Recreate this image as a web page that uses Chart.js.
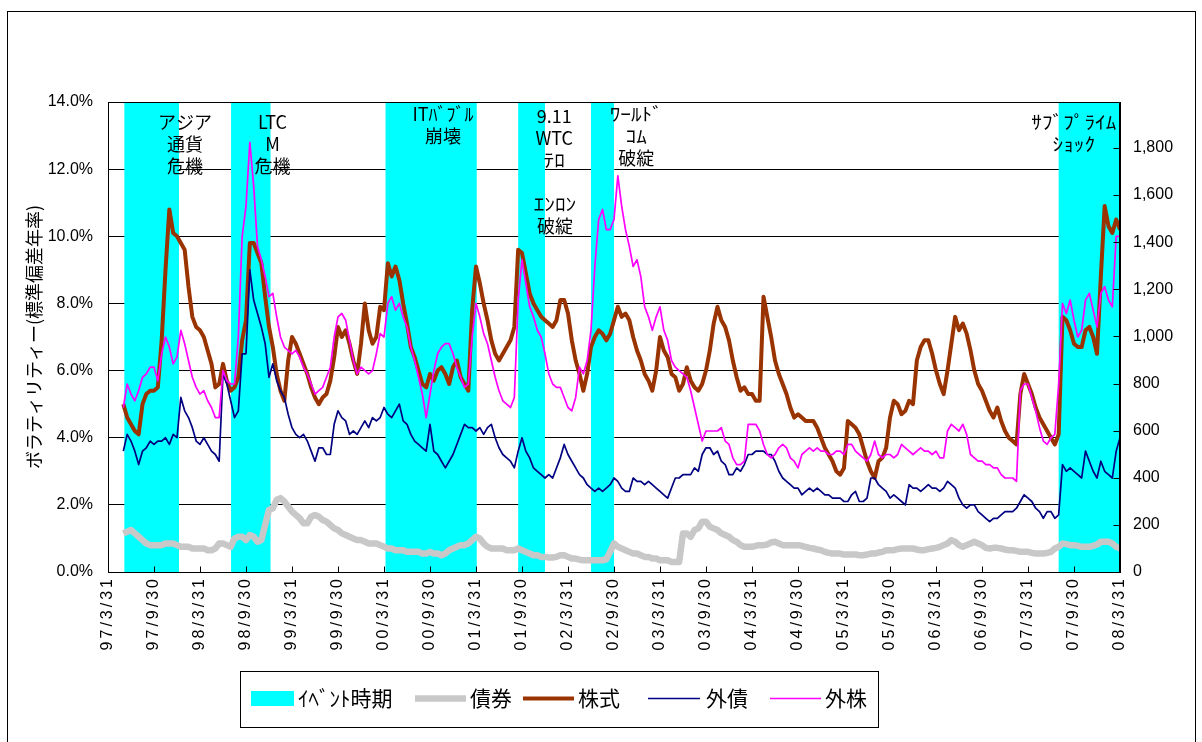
<!DOCTYPE html>
<html>
<head>
<meta charset="utf-8">
<script src="https://cdn.jsdelivr.net/npm/chart.js@4.4.1/dist/chart.umd.min.js"></script>
<style>
  html, body { margin: 0; padding: 0; background: #fff; }
  #wrap { position: relative; width: 1202px; height: 742px; }
</style>
</head>
<body>
<div id="wrap"><canvas id="c" width="1202" height="742"></canvas></div>
<script>
// Samples are half-monthly, counted in months from 1997/3/31.
const startMonth = 2;
const stepMonth = 0.5;

const tickLabels = ['97/3/31','97/9/30','98/3/31','98/9/30','99/3/31','99/9/30','00/3/31','00/9/30',
  '01/3/31','01/9/30','02/3/31','02/9/30','03/3/31','03/9/30','04/3/31','04/9/30','05/3/31','05/9/30',
  '06/3/31','06/9/30','07/3/31','07/9/30','08/3/31'];
const rightTicks = [0,200,400,600,800,1000,1200,1400,1600,1800];
const rightMax = 1995;

const seriesNames = ['ｲﾍﾞﾝﾄ時期','債券','株式','外債','外株'];

// Event periods (months from 1997/3/31)
const eventStart = [2.13, 16.05, 36.2, 53.5, 63.0, 124.0];
const eventEnd   = [9.26, 21.2, 48.1, 57.0, 66.0, 132.0];

// Annualised volatility, %
const bondVol = [
  1.15,1.2,1.25,1.15,1.05,0.95,0.85,0.8,0.8,0.8,
  0.8,0.85,0.85,0.85,0.8,0.75,0.75,0.75,0.7,0.7,
  0.7,0.7,0.65,0.65,0.7,0.85,0.85,0.8,0.75,1.0,
  1.05,1.05,0.95,1.1,1.05,0.9,0.95,1.4,1.85,1.9,
  2.15,2.2,2.1,1.95,1.8,1.7,1.6,1.45,1.45,1.65,
  1.7,1.65,1.55,1.5,1.4,1.3,1.25,1.15,1.1,1.05,
  1.0,0.95,0.95,0.9,0.85,0.85,0.85,0.8,0.75,0.7,
  0.7,0.65,0.65,0.65,0.6,0.6,0.6,0.6,0.55,0.55,
  0.6,0.55,0.55,0.5,0.55,0.65,0.7,0.75,0.8,0.8,
  0.85,0.95,1.05,1.0,0.85,0.75,0.7,0.7,0.7,0.7,
  0.65,0.65,0.65,0.7,0.65,0.6,0.55,0.5,0.5,0.45,
  0.45,0.43,0.43,0.45,0.5,0.5,0.45,0.4,0.4,0.37,
  0.35,0.35,0.35,0.35,0.35,0.35,0.38,0.6,0.85,0.75,
  0.7,0.65,0.6,0.55,0.55,0.5,0.45,0.45,0.4,0.4,
  0.35,0.35,0.35,0.3,0.3,0.3,1.15,1.15,1.05,1.25,
  1.3,1.5,1.5,1.35,1.3,1.25,1.15,1.1,1.05,0.95,
  0.9,0.8,0.75,0.75,0.75,0.78,0.8,0.8,0.82,0.88,
  0.9,0.85,0.8,0.8,0.8,0.8,0.8,0.78,0.75,0.72,
  0.7,0.67,0.65,0.6,0.57,0.55,0.55,0.55,0.52,0.52,
  0.52,0.52,0.5,0.5,0.52,0.55,0.55,0.58,0.6,0.65,
  0.65,0.65,0.68,0.7,0.7,0.7,0.7,0.67,0.65,0.65,
  0.68,0.7,0.72,0.75,0.8,0.85,0.95,0.9,0.8,0.75,
  0.8,0.85,0.9,0.85,0.8,0.72,0.7,0.72,0.72,0.7,
  0.67,0.65,0.65,0.63,0.6,0.6,0.6,0.57,0.55,0.55,
  0.55,0.57,0.6,0.7,0.75,0.85,0.83,0.8,0.8,0.78,
  0.75,0.75,0.75,0.78,0.82,0.9,0.9,0.9,0.85,0.75,
  0.7
];
const stockVol = [
  5.0,4.6,4.4,4.2,4.1,5.0,5.3,5.4,5.4,5.5,
  6.9,9.0,10.8,10.1,10.0,9.8,9.6,8.5,7.6,7.3,
  7.2,7.0,6.6,6.2,5.5,5.6,6.2,5.7,5.4,5.5,
  5.8,6.9,7.5,9.8,9.8,9.5,9.2,8.2,7.3,6.7,
  5.9,5.4,5.1,6.3,7.0,6.8,6.5,6.2,5.9,5.5,
  5.2,5.0,5.2,5.3,5.7,6.4,7.3,7.0,7.2,6.8,
  6.3,5.9,6.8,8.0,7.2,6.8,7.0,7.9,7.8,9.2,
  8.8,9.1,8.7,8.0,7.4,6.7,6.4,6.0,5.6,5.5,
  5.9,5.7,6.0,6.1,5.9,5.6,6.1,6.3,5.8,5.6,
  5.4,7.8,9.1,8.6,8.0,7.5,6.9,6.5,6.3,6.5,
  6.7,6.9,7.3,9.6,9.5,8.9,8.3,8.0,7.8,7.6,
  7.5,7.4,7.3,7.5,8.1,8.1,7.7,6.9,6.3,5.9,
  5.4,5.9,6.7,7.0,7.2,7.1,6.9,7.1,7.5,7.9,
  7.6,7.7,7.5,7.0,6.6,6.3,5.9,5.7,5.4,6.0,
  7.0,6.6,6.4,5.9,5.8,5.4,5.6,6.1,5.7,5.5,
  5.4,5.6,6.0,6.6,7.4,7.9,7.5,7.3,6.9,6.3,
  5.8,5.4,5.5,5.3,5.3,5.1,5.1,8.2,7.6,7.0,
  6.3,5.9,5.6,5.3,4.9,4.6,4.7,4.6,4.5,4.5,
  4.5,4.3,4.0,3.7,3.5,3.3,3.0,2.9,3.1,4.5,
  4.4,4.3,4.1,3.7,3.3,3.0,2.8,3.3,3.4,3.7,
  4.6,5.1,5.0,4.7,4.8,5.1,5.0,6.3,6.7,6.9,
  6.9,6.5,6.0,5.6,5.3,6.0,6.8,7.6,7.2,7.4,
  7.1,6.6,6.0,5.6,5.4,5.1,4.8,4.6,4.9,4.5,
  4.2,4.0,3.9,3.8,5.3,5.9,5.6,5.3,4.9,4.6,
  4.4,4.2,4.0,3.8,4.1,7.6,7.5,7.2,6.8,6.7,
  6.7,7.2,7.3,7.0,6.5,8.8,10.9,10.3,10.1,10.5,
  10.2
];
const foreignBondVol = [
  3.6,4.1,3.9,3.6,3.2,3.6,3.7,3.9,3.8,3.9,
  3.9,4.0,3.8,4.1,4.0,5.2,4.8,4.6,4.3,3.9,
  3.8,4.0,3.8,3.6,3.5,3.3,5.9,5.6,5.1,4.6,
  4.8,6.5,6.5,9.0,8.1,7.7,7.3,6.8,5.8,6.2,
  5.7,5.4,5.2,4.7,4.3,4.1,4.0,4.1,3.9,3.6,
  3.3,3.7,3.7,3.5,3.5,4.4,4.8,4.6,4.5,4.1,
  4.2,4.1,4.3,4.5,4.3,4.6,4.5,4.6,4.9,4.7,
  4.6,4.8,5.0,4.5,4.4,4.1,3.9,3.8,3.7,3.6,
  4.4,3.6,3.5,3.3,3.1,3.3,3.5,3.8,4.1,4.4,
  4.3,4.3,4.2,4.3,4.1,4.3,4.4,4.0,3.7,3.5,
  3.4,3.3,3.1,3.6,4.0,3.6,3.4,3.1,3.0,2.9,
  2.8,2.9,2.8,3.1,3.4,3.8,3.5,3.3,3.1,2.9,
  2.8,2.6,2.5,2.4,2.5,2.4,2.5,2.6,2.8,2.7,
  2.5,2.4,2.4,2.8,2.7,2.7,2.6,2.7,2.6,2.5,
  2.4,2.3,2.2,2.5,2.8,2.8,2.9,2.9,2.9,3.1,
  3.0,3.5,3.7,3.7,3.5,3.6,3.3,3.2,2.9,2.9,
  3.1,3.0,3.2,3.5,3.5,3.6,3.6,3.6,3.5,3.5,
  3.3,3.0,2.8,2.7,2.6,2.5,2.5,2.3,2.4,2.5,
  2.4,2.5,2.4,2.3,2.3,2.2,2.2,2.2,2.1,2.1,
  2.3,2.4,2.1,2.1,2.2,2.8,2.8,2.6,2.5,2.4,
  2.2,2.3,2.2,2.1,2.0,2.6,2.5,2.5,2.4,2.5,
  2.6,2.5,2.5,2.4,2.5,2.7,2.6,2.5,2.2,2.0,
  1.9,2.0,2.0,1.8,1.7,1.6,1.5,1.6,1.6,1.7,
  1.8,1.8,1.8,1.9,2.1,2.3,2.2,2.1,1.9,1.8,
  1.6,1.8,1.8,1.6,1.7,3.2,3.0,3.1,3.0,2.9,
  2.8,3.6,3.3,3.0,2.8,3.3,3.0,2.9,2.8,3.6,
  4.0
];
const foreignStockVol = [
  4.9,5.6,5.3,5.1,5.4,5.8,5.9,6.1,6.1,5.7,
  6.5,7.0,6.7,6.2,6.4,7.2,6.8,6.3,5.8,5.5,
  5.3,5.4,5.1,4.9,4.6,4.6,6.0,5.7,5.6,5.6,
  7.0,10.0,10.9,12.8,11.5,9.7,9.3,8.8,8.2,8.3,
  7.6,7.0,6.7,6.6,6.5,6.6,6.4,6.1,5.9,5.6,
  5.3,5.4,5.5,5.8,6.1,7.0,7.6,7.7,7.5,6.9,
  6.3,5.9,6.1,6.0,5.9,6.0,6.5,7.1,7.0,8.0,
  8.2,7.8,8.0,7.6,7.3,6.7,6.3,5.8,5.3,4.6,
  5.3,6.0,6.5,6.7,6.8,6.8,6.5,6.1,5.8,5.5,
  5.6,7.0,8.0,7.6,7.1,6.8,6.3,5.8,5.4,5.1,
  5.0,4.9,5.2,8.1,9.3,8.6,7.9,7.6,7.2,7.0,
  6.5,5.9,5.6,5.5,5.5,5.2,4.9,4.8,5.2,6.1,
  5.9,6.3,7.2,9.1,10.5,10.8,10.2,10.2,10.5,11.8,
  10.9,10.2,9.7,9.1,9.3,8.8,7.9,7.6,7.2,7.6,
  7.9,7.2,6.9,6.3,6.1,6.0,5.9,5.8,5.4,4.9,
  4.4,3.9,4.2,4.2,4.2,4.2,4.3,3.9,3.8,3.4,
  3.2,3.2,3.3,4.4,4.4,4.4,4.2,3.8,3.5,3.4,
  3.5,3.7,3.8,3.7,3.4,3.3,3.1,3.5,3.6,3.7,
  3.6,3.7,3.6,3.6,3.5,3.5,3.6,3.6,3.5,3.8,
  3.8,3.6,3.5,3.4,3.3,3.5,3.9,3.5,3.4,3.5,
  3.5,3.4,3.5,3.8,3.7,3.6,3.5,3.6,3.7,3.6,
  3.6,3.5,3.6,3.4,3.4,4.2,4.4,4.3,4.2,4.4,
  4.1,3.5,3.4,3.3,3.3,3.2,3.2,3.1,3.1,2.9,
  2.8,2.8,2.8,2.7,5.4,5.6,5.6,5.2,4.8,4.3,
  3.9,3.8,4.0,4.1,5.6,8.0,7.7,8.1,7.5,7.0,
  7.2,8.1,8.3,7.8,7.3,8.3,8.5,8.1,7.9,10.0,
  10.0
];

// Event captions: centre month, level (%) of the first line
const eventNotes = [
  { lines: ['アジア', '通貨', '危機'], month: 10.05, level: 13.39 },
  { lines: ['LTC', 'M', '危機'], month: 21.46, level: 13.39 },
  { lines: ['ITﾊﾞﾌﾞﾙ', '崩壊'], month: 43.7, level: 13.63 },
  { lines: ['9.11', 'WTC', 'ﾃﾛ'], month: 58.2, level: 13.58 },
  { lines: ['ｴﾝﾛﾝ', '破綻'], month: 58.3, level: 10.97 },
  { lines: ['ﾜｰﾙﾄﾞ', 'ｺﾑ', '破綻'], month: 68.9, level: 13.63 },
  { lines: ['ｻﾌﾞﾌﾟﾗｲﾑ', 'ｼｮｯｸ'], month: 125.98, level: 13.4 }
];

const yTitle = 'ボラティリティー(標準偏差年率)';

const latinFont = '"Liberation Sans", Arial, sans-serif';
const jpFont = '"Noto Sans CJK JP", sans-serif';

const toPoints = arr => arr.map((v, i) => ({ x: startMonth + i * stepMonth, y: v }));
const eventPoints = [{ x: 0, y: 0 }];
eventStart.forEach((s, i) => {
  eventPoints.push({ x: s, y: 0 }, { x: s, y: rightMax }, { x: eventEnd[i], y: rightMax }, { x: eventEnd[i], y: 0 });
});

const lineBase = { type: 'line', pointRadius: 0, tension: 0, borderJoinStyle: 'round', fill: false, yAxisID: 'y' };

// half-width kana captions are drawn a little wider
const isHalfKana = s => /[\uFF61-\uFF9F]/.test(s) && !/[A-Z]/.test(s);

// white page, outer frame
const pageFrame = {
  id: 'pageFrame',
  beforeDraw(chart) {
    const c = chart.ctx;
    c.save();
    c.fillStyle = '#fff';
    c.fillRect(0, 0, chart.width, chart.height);
    c.strokeStyle = '#000';
    c.lineWidth = 1;
    c.strokeRect(7.5, 11.5, 1188, 800);
    c.restore();
    // wider spacing for the rotated date labels
    const sx = chart.scales.x;
    if (sx && !sx._spaced) {
      const orig = sx.drawLabels;
      sx.drawLabels = function (area) {
        this.ctx.save();
        this.ctx.letterSpacing = '3px';
        orig.call(this, area);
        this.ctx.restore();
      };
      sx._spaced = true;
    }
  }
};

// plot frame, inward tick marks and event captions
const plotDecor = {
  id: 'plotDecor',
  afterDatasetsDraw(chart) {
    const c = chart.ctx;
    const a = chart.chartArea;
    const sx = chart.scales.x, sy = chart.scales.y, sr = chart.scales.y2;
    c.save();
    c.strokeStyle = '#000';
    c.lineWidth = 1;
    c.beginPath();
    const L = Math.round(a.left) + 0.5, R = Math.round(a.right) - 0.5;
    const T = Math.round(a.top) + 0.5, B = Math.round(a.bottom) + 0.5;
    c.rect(L, T, R - L, B - T);
    sx.ticks.forEach(t => {
      const px = Math.round(sx.getPixelForValue(t.value)) + 0.5;
      c.moveTo(px, B); c.lineTo(px, B - 6);
    });
    sr.ticks.forEach(t => {
      const py = Math.round(sr.getPixelForValue(t.value)) + 0.5;
      c.moveTo(R, py); c.lineTo(R - 6, py);
    });
    c.stroke();

    c.fillStyle = '#000';
    c.font = '18px ' + jpFont;
    c.textAlign = 'center';
    c.textBaseline = 'middle';
    eventNotes.forEach(n => {
      const x = sx.getPixelForValue(n.month);
      const y0 = sy.getPixelForValue(n.level);
      n.lines.forEach((ln, i) => {
        const y = y0 + i * 22;
        if (isHalfKana(ln)) {
          c.save();
          c.translate(x, y);
          c.scale(1.18, 1);
          c.fillText(ln, 0, 0);
          c.restore();
        } else {
          c.fillText(ln, x, y);
        }
      });
    });
    c.restore();
  }
};

// boxed legend under the chart
const boxLegend = {
  id: 'boxLegend',
  afterDraw(chart) {
    const c = chart.ctx;
    const ds = chart.data.datasets;
    const slots = [
      { sym: 251, w: 43, text: 298 },
      { sym: 415, w: 51, text: 470 },
      { sym: 523, w: 51, text: 578 },
      { sym: 648, w: 52, text: 706 },
      { sym: 770, w: 51, text: 825 }
    ];
    const cy = 698;
    c.save();
    c.strokeStyle = '#000';
    c.lineWidth = 1;
    c.strokeRect(240.5, 671.5, 638, 56);
    c.font = '21px ' + jpFont;
    c.textAlign = 'left';
    c.textBaseline = 'middle';
    ds.forEach((d, i) => {
      const s = slots[i];
      if (i === 0) {
        c.fillStyle = d.backgroundColor;
        c.fillRect(s.sym, cy - 7, s.w, 15);
      } else {
        c.strokeStyle = d.borderColor;
        c.lineWidth = d.borderWidth;
        c.beginPath();
        c.moveTo(s.sym, cy + 0.5);
        c.lineTo(s.sym + s.w, cy + 0.5);
        c.stroke();
      }
      c.fillStyle = '#000';
      c.fillText(d.label, s.text, cy);
    });
    c.restore();
  }
};

new Chart(document.getElementById('c'), {
  data: {
    datasets: [
      { type: 'line', label: seriesNames[0], data: eventPoints, yAxisID: 'y2', pointRadius: 0, tension: 0,
        borderWidth: 0, borderColor: 'rgba(0,0,0,0)', backgroundColor: '#00FFFF', fill: 'origin', order: 10 },
      { ...lineBase, label: seriesNames[1], data: toPoints(bondVol), borderColor: '#C8C8C8', backgroundColor: '#C8C8C8', borderWidth: 6.5, order: 4 },
      { ...lineBase, label: seriesNames[2], data: toPoints(stockVol), borderColor: '#993300', backgroundColor: '#993300', borderWidth: 4, order: 3 },
      { ...lineBase, label: seriesNames[3], data: toPoints(foreignBondVol), borderColor: '#000080', backgroundColor: '#000080', borderWidth: 1.7, order: 2 },
      { ...lineBase, label: seriesNames[4], data: toPoints(foreignStockVol), borderColor: '#FF00FF', backgroundColor: '#FF00FF', borderWidth: 1.7, order: 1 }
    ]
  },
  options: {
    responsive: false,
    animation: false,
    devicePixelRatio: 1,
    layout: { padding: { top: 102, left: 0, right: 0, bottom: 0 } },
    plugins: { legend: { display: false }, tooltip: { enabled: false } },
    scales: {
      x: {
        type: 'linear', min: 0, max: 132,
        afterBuildTicks: s => { s.ticks = tickLabels.map((_, i) => ({ value: i * 6 })); },
        afterFit: s => { s.height = 170; },
        ticks: { autoSkip: false, minRotation: 90, maxRotation: 90, padding: 4, color: '#000',
                 font: { family: latinFont, size: 16 }, callback: (v, i) => tickLabels[i] },
        grid: { display: false, drawTicks: false },
        border: { display: true, color: '#000', width: 1 }
      },
      y: {
        position: 'left', min: 0, max: 14,
        afterFit: s => { s.width = 108; },
        ticks: { stepSize: 2, padding: 15, color: '#000', font: { family: latinFont, size: 16 },
                 callback: v => v.toFixed(1) + '%' },
        grid: { color: '#000', lineWidth: 1, drawTicks: false },
        border: { display: true, color: '#000', width: 1 },
        title: { display: true, text: yTitle, color: '#000', font: { family: jpFont, size: 18 },
                 padding: { top: 23, bottom: 0 } }
      },
      y2: {
        position: 'right', min: 0, max: rightMax,
        afterBuildTicks: s => { s.ticks = rightTicks.map(v => ({ value: v })); },
        afterFit: s => { s.width = 82; },
        ticks: { padding: 13, color: '#000', font: { family: latinFont, size: 16 },
                 callback: v => v.toLocaleString('en-US') },
        grid: { display: false, drawTicks: false },
        border: { display: true, color: '#000', width: 1 }
      }
    }
  },
  plugins: [pageFrame, plotDecor, boxLegend]
});
</script>
</body>
</html>
